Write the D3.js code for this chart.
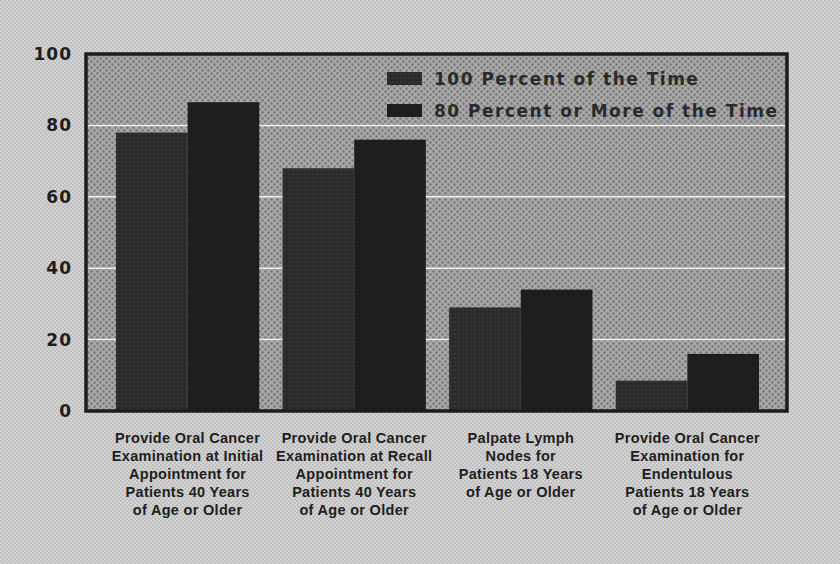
<!DOCTYPE html>
<html>
<head>
<meta charset="utf-8">
<script src="https://cdn.jsdelivr.net/npm/d3@7"></script>
<style>
  body { margin: 0; background: #cfcfcf; }
  svg { display: block; }
</style>
</head>
<body>
<svg id="chart" width="840" height="564"></svg>
<script>
const categories = [
  ["Provide Oral Cancer", "Examination at Initial", "Appointment for", "Patients 40 Years", "of Age or Older"],
  ["Provide Oral Cancer", "Examination at Recall", "Appointment for", "Patients 40 Years", "of Age or Older"],
  ["Palpate Lymph", "Nodes for", "Patients 18 Years", "of Age or Older"],
  ["Provide Oral Cancer", "Examination for", "Endentulous", "Patients 18 Years", "of Age or Older"]
];
const seriesNames = ["100 Percent of the Time", "80 Percent or More of the Time"];
const always = [78, 68, 29, 8.5];
const mostly = [86.5, 76, 34, 16];
const yTicks = [0, 20, 40, 60, 80, 100];

const svg = d3.select("#chart");
const plot = { left: 86, right: 787, top: 54, bottom: 411 };

// halftone-ish textures
const defs = svg.append("defs");
const page = defs.append("pattern").attr("id", "page")
  .attr("width", 4).attr("height", 4).attr("patternUnits", "userSpaceOnUse");
page.append("rect").attr("width", 4).attr("height", 4).attr("fill", "#d4d4d4");
page.append("circle").attr("cx", 1).attr("cy", 1).attr("r", 0.9).attr("fill", "#b4b4b4");
page.append("circle").attr("cx", 3).attr("cy", 3).attr("r", 0.9).attr("fill", "#b4b4b4");

const area = defs.append("pattern").attr("id", "area")
  .attr("width", 6).attr("height", 6).attr("patternUnits", "userSpaceOnUse");
area.append("rect").attr("width", 6).attr("height", 6).attr("fill", "#a8a8a8");
area.append("circle").attr("cx", 1.5).attr("cy", 1.5).attr("r", 1.3).attr("fill", "#767676");
area.append("circle").attr("cx", 4.5).attr("cy", 4.5).attr("r", 1.3).attr("fill", "#767676");

const dark = defs.append("pattern").attr("id", "dark")
  .attr("width", 4).attr("height", 4).attr("patternUnits", "userSpaceOnUse");
dark.append("rect").attr("width", 4).attr("height", 4).attr("fill", "#2a2a2a");
dark.append("circle").attr("cx", 2).attr("cy", 2).attr("r", 0.7).attr("fill", "#474747");

svg.append("rect").attr("width", 840).attr("height", 564).attr("fill", "url(#page)");

const x0 = d3.scaleBand()
  .domain(d3.range(categories.length))
  .range([plot.left, plot.right + 2])
  .paddingInner(0.14)
  .paddingOuter(0.18);

const x1 = d3.scaleBand()
  .domain([0, 1])
  .range([0, x0.bandwidth()]);

const y = d3.scaleLinear().domain([0, 100]).range([plot.bottom, plot.top]);

svg.append("rect")
  .attr("x", plot.left).attr("y", plot.top)
  .attr("width", plot.right - plot.left).attr("height", plot.bottom - plot.top)
  .attr("fill", "url(#area)");

// white gridlines
svg.append("g")
  .selectAll("line")
  .data(yTicks.filter(d => d > 0 && d < 100))
  .join("line")
  .attr("x1", plot.left).attr("x2", plot.right)
  .attr("y1", d => y(d)).attr("y2", d => y(d))
  .attr("stroke", "#eeeeee").attr("stroke-width", 1.5);

// bars
const fills = ["url(#dark)", "#1e1e1e"];
const groups = svg.append("g")
  .selectAll("g")
  .data(categories.map((c, i) => [always[i], mostly[i]]))
  .join("g")
  .attr("transform", (d, i) => `translate(${x0(i)},0)`);

groups.selectAll("rect")
  .data(d => d)
  .join("rect")
  .attr("x", (d, j) => x1(j))
  .attr("y", d => y(d))
  .attr("width", x1.bandwidth())
  .attr("height", d => y(0) - y(d))
  .attr("fill", (d, j) => fills[j]);

// frame
svg.append("rect")
  .attr("x", plot.left).attr("y", plot.top)
  .attr("width", plot.right - plot.left).attr("height", plot.bottom - plot.top)
  .attr("fill", "none").attr("stroke", "#1c1c1c").attr("stroke-width", 3.5);

// y axis labels
const yAxis = d3.axisLeft(y).tickValues(yTicks).tickSize(0).tickPadding(14);
svg.append("g")
  .attr("transform", `translate(${plot.left},0)`)
  .call(yAxis)
  .call(g => g.select(".domain").remove())
  .selectAll("text")
  .attr("font-family", "DejaVu Sans")
  .attr("font-weight", "bold")
  .attr("font-size", 17)
  .attr("letter-spacing", 1)
  .attr("fill", "#1e1e1e");

// category labels
svg.append("g")
  .selectAll("text")
  .data(categories)
  .join("text")
  .attr("text-anchor", "middle")
  .attr("font-family", "Liberation Sans, Arial")
  .attr("font-weight", "bold")
  .attr("font-size", 14.5)
  .attr("letter-spacing", 0.3)
  .attr("fill", "#1e1e1e")
  .attr("transform", (d, i) => `translate(${x0(i) + x0.bandwidth() / 2},443)`)
  .selectAll("tspan")
  .data(d => d)
  .join("tspan")
  .attr("x", 0)
  .attr("dy", (d, k) => k === 0 ? 0 : 18)
  .text(d => d);

// legend
const legend = svg.append("g").attr("transform", "translate(387,72)");
const items = legend.selectAll("g")
  .data(seriesNames)
  .join("g")
  .attr("transform", (d, i) => `translate(0,${i * 32})`);
items.append("rect")
  .attr("width", 35).attr("height", 13)
  .attr("fill", (d, i) => fills[i]);
items.append("text")
  .attr("x", 47).attr("y", 13)
  .attr("font-family", "DejaVu Sans")
  .attr("font-weight", "bold")
  .attr("font-size", 17)
  .attr("letter-spacing", 1.5)
  .attr("fill", "#2a2a2a")
  .text(d => d);
</script>
</body>
</html>
